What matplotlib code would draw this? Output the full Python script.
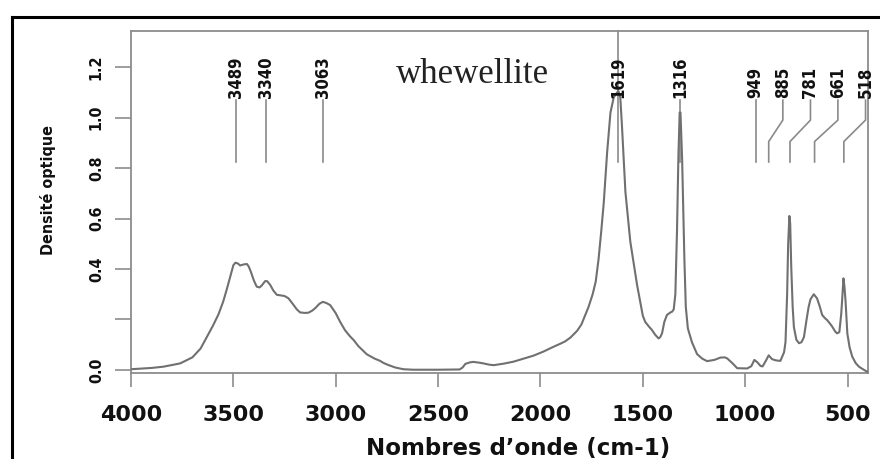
import matplotlib
matplotlib.use("Agg")
import matplotlib.pyplot as plt
from matplotlib.lines import Line2D
from matplotlib import font_manager

# ---------------- data ----------------
wavenumber = [
    4000, 3900, 3842, 3760, 3700, 3660, 3630, 3600, 3573, 3550,
    3532, 3512, 3500, 3490, 3478, 3467, 3450, 3434, 3425, 3415,
    3400, 3386, 3372, 3361, 3345, 3335, 3320, 3305, 3288, 3265,
    3250, 3231, 3210, 3190, 3174, 3150, 3133, 3115, 3100, 3080,
    3063, 3045, 3027, 3000, 2978, 2955, 2930, 2913, 2890, 2865,
    2848, 2810, 2783, 2767, 2744, 2710, 2670, 2622, 2500, 2395,
    2380, 2367, 2345, 2327, 2300, 2278, 2250, 2229, 2180, 2131,
    2082, 2033, 1985, 1936, 1903, 1880, 1854, 1821, 1800, 1785,
    1765, 1745, 1730, 1716, 1703, 1691, 1674, 1658, 1642, 1625,
    1619, 1610, 1602, 1585, 1561, 1528, 1500, 1488, 1470, 1455,
    1440, 1423, 1415, 1406, 1395, 1382, 1365, 1357, 1349, 1341,
    1333, 1326, 1320, 1316, 1308, 1297, 1290, 1280, 1260, 1235,
    1210, 1186, 1150, 1121, 1100, 1088, 1060, 1039, 990, 970,
    955, 940, 925, 915, 900, 885, 869, 850, 828, 810,
    803, 795, 790, 784, 780, 775, 768, 762, 750, 737,
    725, 713, 700, 690, 681, 665, 649, 635, 624, 610,
    600, 587, 575, 560, 551, 540, 531, 526, 520, 515,
    510, 505, 501, 490, 477, 460, 444, 425, 404,
]
absorbance = [
    0.003, 0.008, 0.013, 0.026, 0.05, 0.085, 0.13, 0.175, 0.22, 0.27,
    0.32, 0.38, 0.415, 0.425, 0.422, 0.414, 0.418, 0.42, 0.41, 0.39,
    0.355, 0.33, 0.327, 0.335, 0.352, 0.352, 0.337, 0.315, 0.298, 0.295,
    0.293, 0.284, 0.262, 0.24, 0.228, 0.226, 0.227, 0.235, 0.245, 0.262,
    0.27, 0.265, 0.257, 0.225, 0.19, 0.158, 0.133, 0.119, 0.095, 0.075,
    0.062, 0.045, 0.036, 0.028, 0.02, 0.01, 0.003, 0.001, 0.001, 0.002,
    0.01, 0.024, 0.03, 0.032, 0.029, 0.026, 0.021, 0.019, 0.025, 0.033,
    0.045, 0.057, 0.073, 0.092, 0.104, 0.113, 0.128, 0.155, 0.18, 0.21,
    0.25, 0.30, 0.35, 0.44, 0.55, 0.66, 0.865, 1.02, 1.08, 1.10,
    1.105, 1.08, 0.97, 0.706, 0.508, 0.337, 0.215, 0.19, 0.172, 0.158,
    0.14, 0.125, 0.13, 0.145, 0.19, 0.218, 0.228, 0.231, 0.24, 0.30,
    0.55, 0.85, 1.02, 1.02, 0.838, 0.442, 0.25, 0.165, 0.11, 0.063,
    0.045, 0.035, 0.04, 0.049, 0.05, 0.046, 0.025, 0.007, 0.006, 0.015,
    0.04, 0.03, 0.016, 0.014, 0.035, 0.058, 0.043, 0.038, 0.036, 0.07,
    0.11, 0.3, 0.5, 0.61, 0.58, 0.41, 0.25, 0.17, 0.12, 0.106,
    0.11, 0.13, 0.2, 0.25, 0.28, 0.30, 0.284, 0.25, 0.218, 0.205,
    0.198, 0.185, 0.172, 0.152, 0.145, 0.15, 0.22, 0.28, 0.363, 0.33,
    0.277, 0.2, 0.145, 0.09, 0.053, 0.027, 0.013, 0.003, -0.007,
]

peak_values = [3489, 3340, 3063, 1619, 1316, 949, 885, 781, 661, 518]
label_positions = [3489, 3340, 3063, 1619, 1316, 950, 816, 681, 547, 412]

x_ticks = [4000, 3500, 3000, 2500, 2000, 1500, 1000, 500]
x_tick_labels = ["4000", "3500", "3000", "2500", "2000", "1500", "1000", "500"]
y_ticks = [0.0, 0.2, 0.4, 0.6, 0.8, 1.0, 1.2]
y_tick_labels = ["0.0", "", "0.4", "0.6", "0.8", "1.0", "1.2"]

title_text = "whewellite"
x_label = "Nombres d\u2019onde (cm-1)"
y_label = "Densit\u00e9 optique"

# condensed bold face for the rotated texts, if available
has_condensed = any(f.name == "DejaVu Sans" and f.stretch == "condensed"
                    and f.weight in ("bold", 700)
                    for f in font_manager.fontManager.ttflist)
rot_kw = dict(family="DejaVu Sans", fontweight="bold")
if has_condensed:
    rot_kw["fontstretch"] = "condensed"
    rot_scale = 1.0
else:
    rot_scale = 0.92

# ---------------- figure ----------------
W, H = 880, 459
fig = plt.figure(figsize=(W / 100, H / 100), dpi=100)
fig.patch.set_facecolor("white")

ax_left, ax_right, ax_top, ax_bottom = 131, 868, 31, 373
ax = fig.add_axes([ax_left / W, 1 - ax_bottom / H,
                   (ax_right - ax_left) / W, (ax_bottom - ax_top) / H])

ax.plot(wavenumber, absorbance, color="#707070", lw=1.5, zorder=3)

ax.set_xlim(4000, 400)
ax.set_ylim(-0.012, 1.343)

frame_grey = "#8c8c8c"
for sp in ax.spines.values():
    sp.set_color(frame_grey)
    sp.set_linewidth(1.3)

ax.set_xticks(x_ticks)
ax.set_xticklabels(x_tick_labels, fontsize=16, fontweight="bold",
                   family="DejaVu Sans", color="#111111")
ax.set_yticks(y_ticks)
ax.set_yticklabels(y_tick_labels, fontsize=11.5 * rot_scale,
                   color="#111111", rotation=90, va="center", **rot_kw)
ax.tick_params(axis="x", direction="out", length=10, width=1.2,
               color=frame_grey, pad=13)
ax.tick_params(axis="y", direction="out", length=11.5, width=1.2,
               color=frame_grey, pad=8)

# peak annotations
y_line_bottom, y_knee_low, y_knee_high, y_line_top = 0.824, 0.905, 0.99, 1.069
y_text = 1.077
for peak, pos in zip(peak_values, label_positions):
    if peak == 1619:
        xs, ys = [peak, peak], [y_line_bottom, 1.343]
    elif abs(pos - peak) < 5:
        xs, ys = [peak, peak], [y_line_bottom, y_line_top]
    else:
        xs = [pos, pos, peak, peak]
        ys = [y_line_top, y_knee_high, y_knee_low, y_line_bottom]
    ax.plot(xs, ys, color="#8a8a8a", lw=1.2, zorder=2, clip_on=False)
    ax.text(pos, y_text, str(peak), rotation=90, ha="center", va="bottom",
            fontsize=12 * rot_scale, color="#111111", zorder=4,
            clip_on=False, **rot_kw)

ax.text(2333, 1.137, title_text, ha="center", va="baseline",
        fontsize=25, family="Liberation Serif", color="#222222")

# axis titles
fig.text(518 / W, 1 - 455 / H, x_label, ha="center", va="baseline",
         fontsize=16.5, fontweight="bold", family="DejaVu Sans",
         color="#111111")
fig.text(48 / W, 1 - 190 / H, y_label, ha="center", va="center",
         rotation=90, fontsize=11.5 * rot_scale, color="#111111", **rot_kw)

# outer black frame (top and left edges visible)
fig.add_artist(Line2D([12 / W, 1.0], [1 - 17 / H, 1 - 17 / H],
                      transform=fig.transFigure, color="black", lw=2.2))
fig.add_artist(Line2D([12 / W, 12 / W], [1 - 17 / H, 0.0],
                      transform=fig.transFigure, color="black", lw=2.2))

fig.savefig("out.png", dpi=100)
